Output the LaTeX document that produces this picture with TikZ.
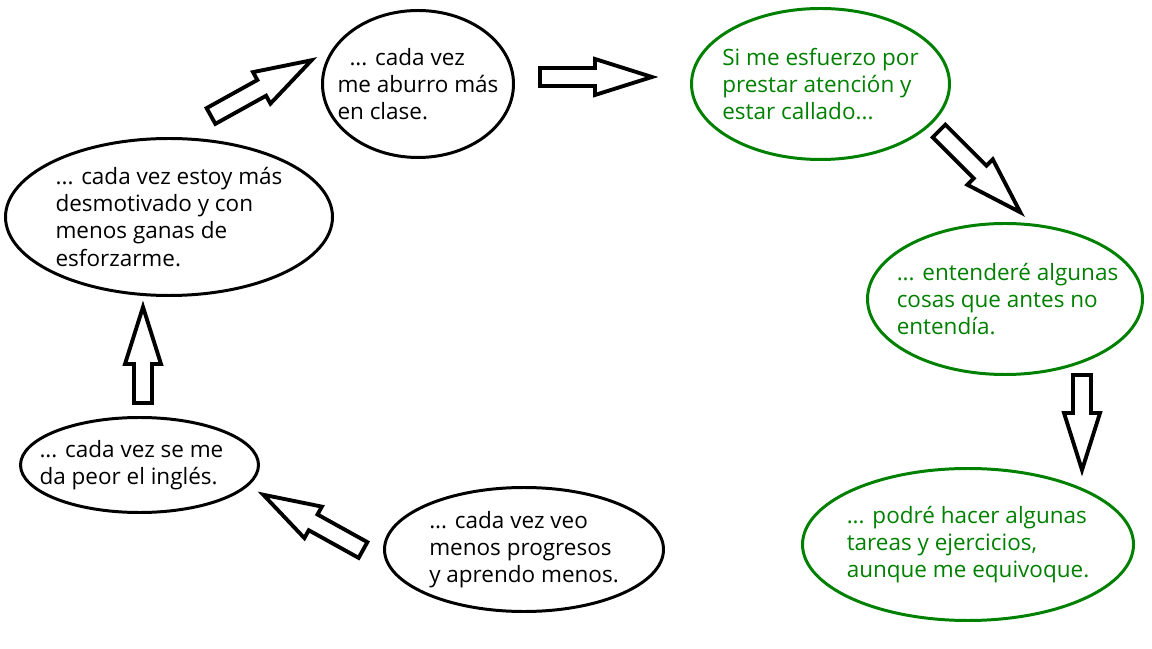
\documentclass[tikz,border=0pt]{standalone}
\usepackage{fontspec}
\setmainfont{Open Sans}
\usepackage{tikz}
\usetikzlibrary{shapes.geometric,positioning}
\definecolor{verde}{RGB}{0,128,0}

\tikzset{
  burbuja/.style={ellipse,draw,line width=1.7pt,inner sep=0pt},
  texto/.style={align=left,inner sep=0pt,font=\fontsize{12.8}{15.4}\selectfont},
  negro/.style={burbuja,draw=black,label={[texto,text=black]center:{#1}}},
  bien/.style={burbuja,draw=verde,label={[texto,text=verde]center:{#1}}},
  flecha/.pic={
    \draw[line width=2.2pt,line join=miter,fill=white]
      (0,-0.18) -- (#1-1.14,-0.18) -- (#1-1.14,-0.36) -- (#1,0)
      -- (#1-1.14,0.36) -- (#1-1.14,0.18) -- (0,0.18) -- cycle;
  }
}

\begin{document}
\begin{tikzpicture}[on grid]
\useasboundingbox (0,0) rectangle (23.04,12.96);

\node	[negro={\hspace{0.24cm}... cada vez\\me aburro más\\en clase.},minimum width=3.82cm,minimum height=2.94cm]
	(aburro)	at (8.36,11.28)	{};
\node	[negro={... cada vez estoy más\\desmotivado y con\\menos ganas de\\esforzarme.},minimum width=6.54cm,minimum height=3.14cm]
	(desmotivado)	[below left=2.66cm and 4.98cm of aburro]	{};
\node	[negro={\raisebox{0.1cm}{\parbox[b]{4cm}{... cada vez se me\\da peor el inglés.}}},minimum width=4.76cm,minimum height=1.90cm]
	(ingles)	[below left=4.96cm and 0.59cm of desmotivado]	{};
\node	[negro={... cada vez veo\\menos progresos\\y aprendo menos.},minimum width=5.58cm,minimum height=2.48cm]
	(progresos)	[below right=1.69cm and 7.69cm of ingles]	{};
\node	[bien={Si me esfuerzo por\\prestar atención y\\estar callado...},minimum width=5.16cm,minimum height=3.02cm]
	(esfuerzo)	[right=8.05cm of aburro]	{};
\node	[bien={\hspace{0.1cm}... entenderé algunas\\\hspace{0.1cm}cosas que antes no\\\hspace{0.1cm}entendía.},minimum width=5.50cm,minimum height=3.02cm]
	(entendere)	[below right=4.30cm and 3.69cm of esfuerzo]	{};
\node	[bien={... podré hacer algunas\\tareas y ejercicios,\\aunque me equivoque.},minimum width=6.62cm,minimum height=3.04cm]
	(podre)	[below left=4.91cm and 0.74cm of entendere]	{};

% flechas huecas
\pic[rotate=29]		at (4.22,10.64)	{flecha=2.30};
\pic				at (10.80,11.42)	{flecha=2.24};
\pic[rotate=-45]	at (18.78,10.34)	{flecha=2.30};
\pic[rotate=-90]	at (21.64,5.46)	{flecha=1.90};
\pic[rotate=90]		at (2.86,4.90)	{flecha=1.92};
\pic[rotate=151]	at (7.26,1.96)	{flecha=2.28};
\end{tikzpicture}
\end{document}
